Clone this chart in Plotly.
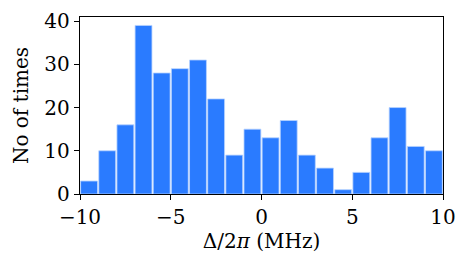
import plotly.graph_objects as go

bin_starts = [-10, -9, -8, -7, -6, -5, -4, -3, -2, -1, 0, 1, 2, 3, 4, 5, 6, 7, 8, 9]
counts = [3, 10, 16, 39, 28, 29, 31, 22, 9, 15, 13, 17, 9, 6, 1, 5, 13, 20, 11, 10]
bin_width = 1
x_ticks = [-10, -5, 0, 5, 10]
x_tick_labels = ["\u221210", "\u22125", "0", "5", "10"]
y_ticks = [0, 10, 20, 30, 40]

centers = [s + bin_width / 2 for s in bin_starts]

fig = go.Figure(go.Bar(
    x=centers, y=counts, width=[bin_width * 0.93] * len(counts),
    marker=dict(color="#2a7bff", line=dict(color="#b8d3ff", width=0.8)),
))

font = dict(family="DejaVu Serif", size=20, color="black")
fig.update_layout(
    width=468, height=271,
    margin=dict(l=80, r=25, t=17, b=77),
    plot_bgcolor="white", paper_bgcolor="white",
    showlegend=False, font=font,
)
fig.update_xaxes(
    range=[-10, 10], tickvals=x_ticks, ticktext=x_tick_labels,
    ticks="outside", ticklen=5, tickwidth=1.2, tickcolor="black",
    showline=True, linecolor="black", linewidth=1.4, mirror=True,
    showgrid=False, zeroline=False, automargin=False,
    title=dict(text="\u0394/2<i>\u03c0</i> (MHz)", font=font, standoff=4),
)
fig.update_yaxes(
    range=[0, 40.95], tickvals=y_ticks,
    ticks="outside", ticklen=5, tickwidth=1.2, tickcolor="black",
    showline=True, linecolor="black", linewidth=1.4, mirror=True,
    showgrid=False, zeroline=False, automargin=False,
    title=dict(text="No of times", font=font, standoff=10),
)
fig.write_html("out.html", config={"displayModeBar": False},
               post_script="document.body.style.margin='0';")
